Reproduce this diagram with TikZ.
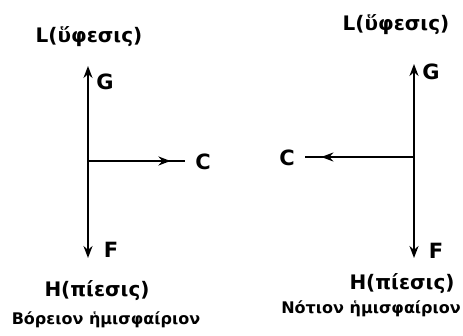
\documentclass[tikz,border=0pt]{standalone}
\usepackage{fontspec}
\setmainfont{DejaVu Sans}
\usetikzlibrary{arrows.meta,decorations.markings}
\begin{document}
\begin{tikzpicture}[x=1pt,y=-1pt,
  lbl/.style={inner sep=0pt,font=\fontsize{21}{23}\selectfont\bfseries},
  press/.style={inner sep=0pt,font=\fontsize{20}{22}\selectfont\bfseries},
  hemi/.style={inner sep=0pt,font=\fontsize{16}{18}\selectfont\bfseries},
  vec/.style={line width=2.4pt,-{Stealth[length=12pt,width=9pt]}},
  hvec/.style={line width=2.4pt,postaction={decorate},
    decoration={markings,mark=at position #1 with {\arrow{Stealth[length=12pt,width=9pt]}}}}
]
\useasboundingbox (0,0) rectangle (463,336);
% left (northern hemisphere)
\node[press] (LL) at (89,37) {L(ὕφεσις)};
\coordinate (Ltop) at (88,66);
\coordinate (Lmid) at (88,161);
\coordinate (Lbot) at (88,258);
\coordinate (LCe) at (185,161);
\node[lbl] (LG) at (105,82) {G};
\node[lbl] (LF) at (111,250) {F};
\node[lbl] (LC) at (203,162) {C};
\node[press] (LH) at (97,291) {H(πίεσις)};
\node[hemi] (LN) at (106,320) {Βόρειον ἡμισφαίριον};
\draw[vec] (Lmid) -- (Ltop);
\draw[vec] (Lmid) -- (Lbot);
\draw[hvec=0.85] (Lmid) -- (LCe);
% right (southern hemisphere)
\node[press] (RL) at (396,25) {L(ὕφεσις)};
\coordinate (Rtop) at (414,64);
\coordinate (Rmid) at (414,157);
\coordinate (Rbot) at (414,258);
\coordinate (RCe) at (305,157);
\node[lbl] (RG) at (431,72) {G};
\node[lbl] (RF) at (436,251) {F};
\node[lbl] (RC) at (287,158) {C};
\node[press] (RH) at (402,284) {H(πίεσις)};
\node[hemi,anchor=east] (RS) at (461,309) {Νότιον ἡμισφαίριον};
\draw[vec] (Rmid) -- (Rtop);
\draw[vec] (Rmid) -- (Rbot);
\draw[hvec=0.85] (Rmid) -- (RCe);
\end{tikzpicture}
\end{document}
